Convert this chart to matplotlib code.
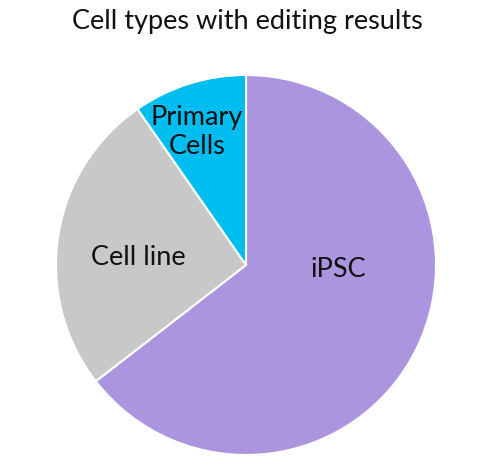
import matplotlib
matplotlib.use("Agg")
import matplotlib.pyplot as plt

categories = ["iPSC", "Cell line", "Primary\nCells"]
counts = [20, 8, 3]
colors = ["#ab95df", "#c8c8c8", "#00bdf0"]
label_pos = [(0.484, -0.026), (-0.568, 0.042), (-0.258, 0.70)]

plt.rcParams['font.family'] = ['Lato', 'DejaVu Sans']
fig = plt.figure(figsize=(5, 4.68), dpi=100)
ax = fig.add_axes([0.112, 0.0278, 0.76, 0.812])
wedges, _ = ax.pie(counts, colors=colors, startangle=90, counterclock=False,
                   radius=1, wedgeprops=dict(edgecolor="white", linewidth=1.5))
for lab, (x, y) in zip(categories, label_pos):
    ax.text(x, y, lab, ha="center", va="center", fontsize=19.5, color="#111111",
            linespacing=1.2)
ax.set_xlim(-1, 1)
ax.set_ylim(-1, 1)
ax.set_aspect("equal")
fig.text(0.494, 0.953, "Cell types with editing results", ha="center", va="center",
         fontsize=19.5, color="#111111")
fig.savefig("out.png", dpi=100)
